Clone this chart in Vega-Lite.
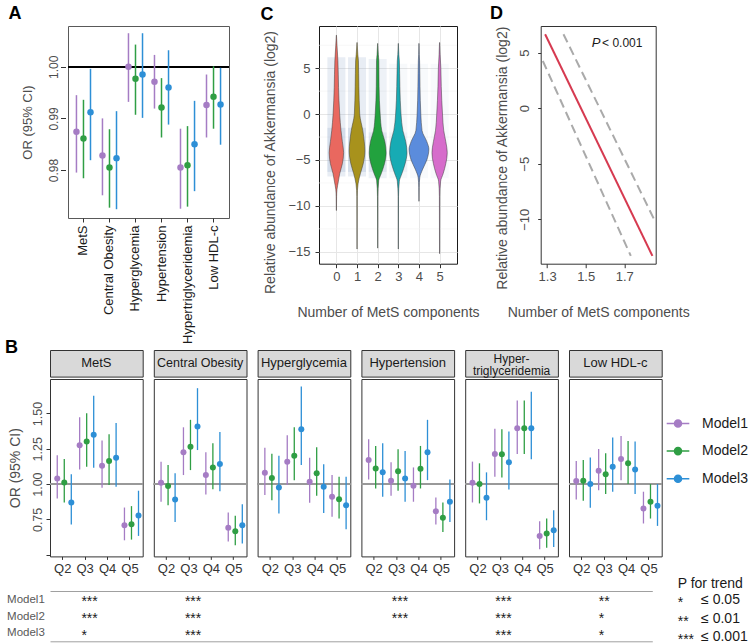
{
"$schema": "https://vega.github.io/schema/vega-lite/v6.json",
"padding": {"left": 4, "top": 4, "right": 5, "bottom": 2},
"background": "white",
"config": {
  "font": "Liberation Sans",
  "view": {"stroke": null},
  "axis": {"labelFont": "Liberation Sans", "titleFont": "Liberation Sans", "labelColor": "#4d4d4d", "titleColor": "#4d4d4d", "titleFontWeight": "normal", "labelFontSize": 13, "titleFontSize": 14, "tickColor": "#333333", "domain": false, "grid": false, "labelOverlap": false},
  "title": {"fontSize": 18, "fontWeight": "bold", "color": "#000000", "anchor": "start", "frame": "bounds", "font": "Liberation Sans", "baseline": "alphabetic", "offset": 2.5},
  "text": {"font": "Liberation Sans"}
},
"datasets": {
  "aData": [
    {"outcome":"MetS","model":"Model1","or":0.9874,"lo":0.9795,"hi":0.9945},
    {"outcome":"MetS","model":"Model2","or":0.9861,"lo":0.9784,"hi":0.9936},
    {"outcome":"MetS","model":"Model3","or":0.9912,"lo":0.9819,"hi":0.9996},
    {"outcome":"Central Obesity","model":"Model1","or":0.9828,"lo":0.9751,"hi":0.9900},
    {"outcome":"Central Obesity","model":"Model2","or":0.9805,"lo":0.9727,"hi":0.9879},
    {"outcome":"Central Obesity","model":"Model3","or":0.9823,"lo":0.9724,"hi":0.9914},
    {"outcome":"Hyperglycemia","model":"Model1","or":1.0000,"lo":0.9932,"hi":1.0065},
    {"outcome":"Hyperglycemia","model":"Model2","or":0.9977,"lo":0.9907,"hi":1.0043},
    {"outcome":"Hyperglycemia","model":"Model3","or":0.9985,"lo":0.9901,"hi":1.0065},
    {"outcome":"Hypertension","model":"Model1","or":0.9971,"lo":0.9919,"hi":1.0023},
    {"outcome":"Hypertension","model":"Model2","or":0.9921,"lo":0.9863,"hi":0.9978},
    {"outcome":"Hypertension","model":"Model3","or":0.9960,"lo":0.9888,"hi":1.0032},
    {"outcome":"Hypertriglyceridemia","model":"Model1","or":0.9805,"lo":0.9725,"hi":0.9880},
    {"outcome":"Hypertriglyceridemia","model":"Model2","or":0.9809,"lo":0.9729,"hi":0.9885},
    {"outcome":"Hypertriglyceridemia","model":"Model3","or":0.9850,"lo":0.9759,"hi":0.9934},
    {"outcome":"Low HDL-c","model":"Model1","or":0.9926,"lo":0.9863,"hi":0.9985},
    {"outcome":"Low HDL-c","model":"Model2","or":0.9942,"lo":0.9880,"hi":1.0001},
    {"outcome":"Low HDL-c","model":"Model3","or":0.9927,"lo":0.9849,"hi":0.9998}
  ],
  "bData": [
    {"outcome":"MetS","q":"Q2","model":"Model1","or":1.040,"lo":0.898,"hi":1.204},
    {"outcome":"MetS","q":"Q2","model":"Model2","or":1.012,"lo":0.870,"hi":1.178},
    {"outcome":"MetS","q":"Q2","model":"Model3","or":0.870,"lo":0.714,"hi":1.069},
    {"outcome":"MetS","q":"Q3","model":"Model1","or":1.275,"lo":1.104,"hi":1.473},
    {"outcome":"MetS","q":"Q3","model":"Model2","or":1.301,"lo":1.123,"hi":1.502},
    {"outcome":"MetS","q":"Q3","model":"Model3","or":1.350,"lo":1.116,"hi":1.625},
    {"outcome":"MetS","q":"Q4","model":"Model1","or":1.130,"lo":0.974,"hi":1.308},
    {"outcome":"MetS","q":"Q4","model":"Model2","or":1.163,"lo":0.993,"hi":1.353},
    {"outcome":"MetS","q":"Q4","model":"Model3","or":1.187,"lo":0.981,"hi":1.433},
    {"outcome":"MetS","q":"Q5","model":"Model1","or":0.709,"lo":0.602,"hi":0.834},
    {"outcome":"MetS","q":"Q5","model":"Model2","or":0.716,"lo":0.607,"hi":0.844},
    {"outcome":"MetS","q":"Q5","model":"Model3","or":0.777,"lo":0.633,"hi":0.953},
    {"outcome":"Central Obesity","q":"Q2","model":"Model1","or":1.009,"lo":0.875,"hi":1.159},
    {"outcome":"Central Obesity","q":"Q2","model":"Model2","or":0.986,"lo":0.851,"hi":1.135},
    {"outcome":"Central Obesity","q":"Q2","model":"Model3","or":0.891,"lo":0.732,"hi":1.076},
    {"outcome":"Central Obesity","q":"Q3","model":"Model1","or":1.225,"lo":1.064,"hi":1.402},
    {"outcome":"Central Obesity","q":"Q3","model":"Model2","or":1.265,"lo":1.099,"hi":1.455},
    {"outcome":"Central Obesity","q":"Q3","model":"Model3","or":1.407,"lo":1.241,"hi":1.679},
    {"outcome":"Central Obesity","q":"Q4","model":"Model1","or":1.064,"lo":0.927,"hi":1.225},
    {"outcome":"Central Obesity","q":"Q4","model":"Model2","or":1.118,"lo":0.964,"hi":1.289},
    {"outcome":"Central Obesity","q":"Q4","model":"Model3","or":1.142,"lo":0.950,"hi":1.369},
    {"outcome":"Central Obesity","q":"Q5","model":"Model1","or":0.690,"lo":0.593,"hi":0.799},
    {"outcome":"Central Obesity","q":"Q5","model":"Model2","or":0.666,"lo":0.567,"hi":0.775},
    {"outcome":"Central Obesity","q":"Q5","model":"Model3","or":0.709,"lo":0.579,"hi":0.858},
    {"outcome":"Hyperglycemia","q":"Q2","model":"Model1","or":1.080,"lo":0.922,"hi":1.258},
    {"outcome":"Hyperglycemia","q":"Q2","model":"Model2","or":1.043,"lo":0.886,"hi":1.215},
    {"outcome":"Hyperglycemia","q":"Q2","model":"Model3","or":0.976,"lo":0.792,"hi":1.201},
    {"outcome":"Hyperglycemia","q":"Q3","model":"Model1","or":1.159,"lo":0.993,"hi":1.346},
    {"outcome":"Hyperglycemia","q":"Q3","model":"Model2","or":1.201,"lo":1.028,"hi":1.402},
    {"outcome":"Hyperglycemia","q":"Q3","model":"Model3","or":1.388,"lo":1.135,"hi":1.691},
    {"outcome":"Hyperglycemia","q":"Q4","model":"Model1","or":1.017,"lo":0.867,"hi":1.187},
    {"outcome":"Hyperglycemia","q":"Q4","model":"Model2","or":1.076,"lo":0.917,"hi":1.260},
    {"outcome":"Hyperglycemia","q":"Q4","model":"Model3","or":0.981,"lo":0.796,"hi":1.140},
    {"outcome":"Hyperglycemia","q":"Q5","model":"Model1","or":0.910,"lo":0.768,"hi":1.064},
    {"outcome":"Hyperglycemia","q":"Q5","model":"Model2","or":0.893,"lo":0.756,"hi":1.052},
    {"outcome":"Hyperglycemia","q":"Q5","model":"Model3","or":0.851,"lo":0.680,"hi":1.052},
    {"outcome":"Hypertension","q":"Q2","model":"Model1","or":1.170,"lo":1.033,"hi":1.317},
    {"outcome":"Hypertension","q":"Q2","model":"Model2","or":1.111,"lo":0.969,"hi":1.270},
    {"outcome":"Hypertension","q":"Q2","model":"Model3","or":1.083,"lo":0.910,"hi":1.289},
    {"outcome":"Hypertension","q":"Q3","model":"Model1","or":1.024,"lo":0.917,"hi":1.154},
    {"outcome":"Hypertension","q":"Q3","model":"Model2","or":1.090,"lo":0.953,"hi":1.246},
    {"outcome":"Hypertension","q":"Q3","model":"Model3","or":1.040,"lo":0.875,"hi":1.234},
    {"outcome":"Hypertension","q":"Q4","model":"Model1","or":0.988,"lo":0.875,"hi":1.118},
    {"outcome":"Hypertension","q":"Q4","model":"Model2","or":1.109,"lo":0.969,"hi":1.270},
    {"outcome":"Hypertension","q":"Q4","model":"Model3","or":1.225,"lo":1.028,"hi":1.455},
    {"outcome":"Hypertension","q":"Q5","model":"Model1","or":0.808,"lo":0.714,"hi":0.905},
    {"outcome":"Hypertension","q":"Q5","model":"Model2","or":0.761,"lo":0.661,"hi":0.870},
    {"outcome":"Hypertension","q":"Q5","model":"Model3","or":0.875,"lo":0.732,"hi":1.033},
    {"outcome":"Hypertriglyceridemia","q":"Q2","model":"Model1","or":1.009,"lo":0.870,"hi":1.159},
    {"outcome":"Hypertriglyceridemia","q":"Q2","model":"Model2","or":1.000,"lo":0.863,"hi":1.147},
    {"outcome":"Hypertriglyceridemia","q":"Q2","model":"Model3","or":0.903,"lo":0.744,"hi":1.083},
    {"outcome":"Hypertriglyceridemia","q":"Q3","model":"Model1","or":1.213,"lo":1.052,"hi":1.391},
    {"outcome":"Hypertriglyceridemia","q":"Q3","model":"Model2","or":1.211,"lo":1.047,"hi":1.388},
    {"outcome":"Hypertriglyceridemia","q":"Q3","model":"Model3","or":1.154,"lo":0.962,"hi":1.372},
    {"outcome":"Hypertriglyceridemia","q":"Q4","model":"Model1","or":1.395,"lo":1.213,"hi":1.592},
    {"outcome":"Hypertriglyceridemia","q":"Q4","model":"Model2","or":1.395,"lo":1.213,"hi":1.592},
    {"outcome":"Hypertriglyceridemia","q":"Q4","model":"Model3","or":1.395,"lo":1.175,"hi":1.653},
    {"outcome":"Hypertriglyceridemia","q":"Q5","model":"Model1","or":0.633,"lo":0.538,"hi":0.737},
    {"outcome":"Hypertriglyceridemia","q":"Q5","model":"Model2","or":0.650,"lo":0.550,"hi":0.756},
    {"outcome":"Hypertriglyceridemia","q":"Q5","model":"Model3","or":0.673,"lo":0.555,"hi":0.815},
    {"outcome":"Low HDL-c","q":"Q2","model":"Model1","or":1.021,"lo":0.891,"hi":1.163},
    {"outcome":"Low HDL-c","q":"Q2","model":"Model2","or":1.024,"lo":0.882,"hi":1.170},
    {"outcome":"Low HDL-c","q":"Q2","model":"Model3","or":1.000,"lo":0.832,"hi":1.189},
    {"outcome":"Low HDL-c","q":"Q3","model":"Model1","or":1.095,"lo":0.957,"hi":1.249},
    {"outcome":"Low HDL-c","q":"Q3","model":"Model2","or":1.069,"lo":0.929,"hi":1.218},
    {"outcome":"Low HDL-c","q":"Q3","model":"Model3","or":1.123,"lo":0.946,"hi":1.329},
    {"outcome":"Low HDL-c","q":"Q4","model":"Model1","or":1.178,"lo":1.028,"hi":1.341},
    {"outcome":"Low HDL-c","q":"Q4","model":"Model2","or":1.147,"lo":1.000,"hi":1.305},
    {"outcome":"Low HDL-c","q":"Q4","model":"Model3","or":1.104,"lo":0.929,"hi":1.301},
    {"outcome":"Low HDL-c","q":"Q5","model":"Model1","or":0.827,"lo":0.721,"hi":0.946},
    {"outcome":"Low HDL-c","q":"Q5","model":"Model2","or":0.875,"lo":0.756,"hi":1.000},
    {"outcome":"Low HDL-c","q":"Q5","model":"Model3","or":0.846,"lo":0.704,"hi":1.000}
  ],
  "violin": [
    {"c":0,"v":8.6,"lo":-0.004,"hi":0.004},{"c":0,"v":7.5,"lo":-0.03,"hi":0.03},{"c":0,"v":5.8,"lo":-0.074,"hi":0.074},{"c":0,"v":2.9,"lo":-0.105,"hi":0.105},{"c":0,"v":0,"lo":-0.16,"hi":0.16},{"c":0,"v":-1.8,"lo":-0.225,"hi":0.225},{"c":0,"v":-3,"lo":-0.29,"hi":0.29},{"c":0,"v":-4.2,"lo":-0.35,"hi":0.35},{"c":0,"v":-5.4,"lo":-0.29,"hi":0.29},{"c":0,"v":-6.5,"lo":-0.16,"hi":0.16},{"c":0,"v":-7.4,"lo":-0.09,"hi":0.09},{"c":0,"v":-8.2,"lo":-0.03,"hi":0.03},{"c":0,"v":-9,"lo":-0.01,"hi":0.01},{"c":0,"v":-10.5,"lo":-0.004,"hi":0.004},
    {"c":1,"v":7.8,"lo":0.996,"hi":1.004},{"c":1,"v":6.5,"lo":0.96,"hi":1.04},{"c":1,"v":5.8,"lo":0.932,"hi":1.068},{"c":1,"v":3,"lo":0.91,"hi":1.09},{"c":1,"v":0,"lo":0.87,"hi":1.13},{"c":1,"v":-1.8,"lo":0.72,"hi":1.28},{"c":1,"v":-3,"lo":0.65,"hi":1.35},{"c":1,"v":-4,"lo":0.62,"hi":1.38},{"c":1,"v":-5.4,"lo":0.7,"hi":1.3},{"c":1,"v":-6.5,"lo":0.84,"hi":1.16},{"c":1,"v":-7.6,"lo":0.95,"hi":1.05},{"c":1,"v":-9,"lo":0.99,"hi":1.01},{"c":1,"v":-14.7,"lo":0.996,"hi":1.004},
    {"c":2,"v":7.7,"lo":1.996,"hi":2.004},{"c":2,"v":6.5,"lo":1.97,"hi":2.03},{"c":2,"v":5.8,"lo":1.944,"hi":2.056},{"c":2,"v":3,"lo":1.932,"hi":2.068},{"c":2,"v":0,"lo":1.88,"hi":2.12},{"c":2,"v":-1.8,"lo":1.8,"hi":2.2},{"c":2,"v":-3,"lo":1.65,"hi":2.35},{"c":2,"v":-4.2,"lo":1.59,"hi":2.41},{"c":2,"v":-5.4,"lo":1.67,"hi":2.33},{"c":2,"v":-6.5,"lo":1.83,"hi":2.17},{"c":2,"v":-7.25,"lo":1.95,"hi":2.05},{"c":2,"v":-9,"lo":1.99,"hi":2.01},{"c":2,"v":-14.6,"lo":1.996,"hi":2.004},
    {"c":3,"v":7.7,"lo":2.996,"hi":3.004},{"c":3,"v":6.5,"lo":2.975,"hi":3.025},{"c":3,"v":5.8,"lo":2.95,"hi":3.05},{"c":3,"v":3,"lo":2.925,"hi":3.075},{"c":3,"v":0,"lo":2.87,"hi":3.13},{"c":3,"v":-1.8,"lo":2.78,"hi":3.22},{"c":3,"v":-3,"lo":2.64,"hi":3.36},{"c":3,"v":-4.2,"lo":2.58,"hi":3.42},{"c":3,"v":-5.4,"lo":2.67,"hi":3.33},{"c":3,"v":-6.5,"lo":2.83,"hi":3.17},{"c":3,"v":-7.3,"lo":2.95,"hi":3.05},{"c":3,"v":-9,"lo":2.99,"hi":3.01},{"c":3,"v":-14.7,"lo":2.996,"hi":3.004},
    {"c":4,"v":7.7,"lo":3.996,"hi":4.004},{"c":4,"v":6.5,"lo":3.985,"hi":4.015},{"c":4,"v":5.8,"lo":3.97,"hi":4.03},{"c":4,"v":3,"lo":3.95,"hi":4.05},{"c":4,"v":0,"lo":3.91,"hi":4.09},{"c":4,"v":-1.8,"lo":3.85,"hi":4.15},{"c":4,"v":-3,"lo":3.62,"hi":4.38},{"c":4,"v":-3.8,"lo":3.52,"hi":4.48},{"c":4,"v":-5,"lo":3.62,"hi":4.38},{"c":4,"v":-6,"lo":3.82,"hi":4.18},{"c":4,"v":-6.9,"lo":3.96,"hi":4.04},{"c":4,"v":-8,"lo":3.99,"hi":4.01},{"c":4,"v":-9.5,"lo":3.996,"hi":4.004},
    {"c":5,"v":7.8,"lo":4.996,"hi":5.004},{"c":5,"v":6.5,"lo":4.975,"hi":5.025},{"c":5,"v":5,"lo":4.94,"hi":5.06},{"c":5,"v":3,"lo":4.92,"hi":5.08},{"c":5,"v":0,"lo":4.86,"hi":5.14},{"c":5,"v":-1.8,"lo":4.8,"hi":5.2},{"c":5,"v":-3,"lo":4.7,"hi":5.3},{"c":5,"v":-4.2,"lo":4.63,"hi":5.37},{"c":5,"v":-5.4,"lo":4.7,"hi":5.3},{"c":5,"v":-6.5,"lo":4.83,"hi":5.17},{"c":5,"v":-7.3,"lo":4.95,"hi":5.05},{"c":5,"v":-9,"lo":4.99,"hi":5.01},{"c":5,"v":-15.2,"lo":4.996,"hi":5.004}
  ],
  "haze": [
    {"c":0,"lo":-6.8,"hi":6.2,"d":0.2},{"c":1,"lo":-6.8,"hi":6.2,"d":0.2},{"c":2,"lo":-7,"hi":6.0,"d":0.15},{"c":3,"lo":-7,"hi":5.5,"d":0.07},{"c":4,"lo":-7,"hi":5.5,"d":0.06},{"c":5,"lo":-7,"hi":5.5,"d":0.06},
    {"c":0,"lo":-6.3,"hi":-1.5,"d":0.22},{"c":1,"lo":-6.3,"hi":-1.5,"d":0.22},{"c":2,"lo":-6.3,"hi":-2,"d":0.17},{"c":3,"lo":-6.3,"hi":-2,"d":0.08}
  ],
  "dLines": [
    {"k":"fit","x":1.29,"y":6.66},{"k":"fit","x":1.846,"y":-13.3},
    {"k":"upper","x":1.385,"y":6.66},{"k":"upper","x":1.863,"y":-10.3},
    {"k":"lower","x":1.278,"y":4.25},{"k":"lower","x":1.734,"y":-13.3}
  ],
  "stars": [
    {"outcome":"MetS","model":"Model1","star":"***"},{"outcome":"MetS","model":"Model2","star":"***"},{"outcome":"MetS","model":"Model3","star":"*"},
    {"outcome":"Central Obesity","model":"Model1","star":"***"},{"outcome":"Central Obesity","model":"Model2","star":"***"},{"outcome":"Central Obesity","model":"Model3","star":"***"},
    {"outcome":"Hypertension","model":"Model1","star":"***"},{"outcome":"Hypertension","model":"Model2","star":"***"},
    {"outcome":"Hypertriglyceridemia","model":"Model1","star":"***"},{"outcome":"Hypertriglyceridemia","model":"Model2","star":"***"},{"outcome":"Hypertriglyceridemia","model":"Model3","star":"***"},
    {"outcome":"Low HDL-c","model":"Model1","star":"**"},{"outcome":"Low HDL-c","model":"Model2","star":"*"},{"outcome":"Low HDL-c","model":"Model3","star":"*"}
  ],
  "ptrend": [
    {"row":"*","col":"sym","t":"*"},{"row":"*","col":"thr","t":"≤ 0.05"},
    {"row":"**","col":"sym","t":"**"},{"row":"**","col":"thr","t":"≤ 0.01"},
    {"row":"***","col":"sym","t":"***"},{"row":"***","col":"thr","t":"≤ 0.001"}
  ]
},
"vconcat": [
 {"vconcat": [
  {"hconcat": [
   {"hconcat": [
    {"title": {"text": "A", "dx": -13},
     "hconcat": [
      {"width": 1, "height": 192, "data": {"name": "aData"}, "mark": {"type": "point", "opacity": 0},
       "encoding": {"y": {"field": "or", "type": "quantitative", "scale": {"domain": [0.9707, 1.0079], "nice": false, "zero": false},
         "axis": {"values": [0.98, 0.99, 1.0], "format": ".2f", "offset": -15.5, "labelAngle": -90, "labelAlign": "center", "labelBaseline": "bottom", "tickSize": 5, "labelPadding": 0, "labelFontSize": 12, "title": "OR (95% CI)", "titleFontSize": 13, "titlePadding": 13}}}},
      {"width": 161, "height": 192, "view": {"stroke": "#595959"}, "data": {"name": "aData"},
       "layer": [
        {"mark": {"type": "rule", "color": "#000000", "strokeWidth": 1.3}, "encoding": {"y": {"datum": 1, "type": "quantitative", "scale": {"domain": [0.9707, 1.0079], "nice": false, "zero": false}, "axis": null}}},
        {"mark": {"type": "rule", "strokeWidth": 1.5},
         "encoding": {
          "x": {"field": "outcome", "type": "nominal", "sort": ["MetS","Central Obesity","Hyperglycemia","Hypertension","Hypertriglyceridemia","Low HDL-c"], "scale": {"paddingInner": 0.19, "paddingOuter": 0.19}, "axis": {"title": null, "labelAngle": -90, "tickSize": 4, "labelPadding": 3, "labelColor": "#1a1a1a", "labelFontSize": 13}},
          "xOffset": {"field": "model", "type": "nominal", "sort": ["Model1","Model2","Model3"]},
          "y": {"field": "lo", "type": "quantitative", "axis": null}, "y2": {"field": "hi"},
          "color": {"field": "model", "type": "nominal", "scale": {"domain": ["Model1","Model2","Model3"], "range": ["#a57cc4","#2f9e44","#2d8fd6"]}}}},
        {"mark": {"type": "point", "filled": true, "size": 42, "opacity": 1},
         "encoding": {
          "x": {"field": "outcome", "type": "nominal", "sort": ["MetS","Central Obesity","Hyperglycemia","Hypertension","Hypertriglyceridemia","Low HDL-c"]},
          "xOffset": {"field": "model", "type": "nominal", "sort": ["Model1","Model2","Model3"]},
          "y": {"field": "or", "type": "quantitative", "axis": null},
          "color": {"field": "model", "type": "nominal", "scale": {"domain": ["Model1","Model2","Model3"], "range": ["#a57cc4","#2f9e44","#2d8fd6"]},
            "legend": {"title": null, "orient": "none", "legendX": 620, "legendY": 389.5, "symbolType": "M-1.6,0L1.6,0M0.5,0A0.5,0.5,0,1,1,-0.5,0A0.5,0.5,0,1,1,0.5,0", "symbolSize": 200, "symbolStrokeWidth": 1.5, "labelFontSize": 14, "labelColor": "#1a1a1a", "labelOffset": 16, "rowPadding": 12.6, "padding": 0,
              "encode": {"symbols": {"update": {"fill": {"signal": "scale('color', datum.value)"}, "stroke": {"signal": "scale('color', datum.value)"}, "opacity": {"value": 1}}}}}}}}
       ]}
     ], "spacing": 0},
    {"width": 138, "height": 237.7, "title": {"text": "C", "dx": -3}, "view": {"stroke": "#1a1a1a"},
     "layer": [
      {"data": {"values": [{"g": 7.5},{"g": 2.5},{"g": -2.5},{"g": -7.5},{"g": -12.5}]}, "mark": {"type": "rule", "color": "#f2f2f2", "strokeWidth": 0.6},
       "encoding": {"y": {"field": "g", "type": "quantitative", "scale": {"domain": [-16.3, 9.6], "nice": false, "zero": false},
         "axis": {"values": [-15,-10,-5,0,5], "grid": true, "gridColor": "#e6e6e6", "tickSize": 4, "labelPadding": 5, "title": "Relative abundance of Akkermansia (log2)", "titlePadding": 10.5, "titleY": 136}}}},
      {"data": {"name": "haze"}, "mark": {"type": "bar", "width": 18, "color": "#8ea6c8"},
       "encoding": {"x": {"field": "c", "type": "quantitative", "scale": {"domain": [-0.6, 5.6], "nice": false, "zero": false},
          "axis": {"values": [0,1,2,3,4,5], "labelOverlap": false, "grid": true, "gridColor": "#e6e6e6", "tickSize": 4, "labelPadding": 3, "title": "Number of MetS components", "titlePadding": 22}},
        "y": {"field": "lo", "type": "quantitative"}, "y2": {"field": "hi"},
        "opacity": {"field": "d", "type": "quantitative", "scale": {"domain": [0, 1], "range": [0, 1]}, "legend": null}}},
      {"data": {"name": "violin"}, "mark": {"type": "area", "orient": "horizontal", "stroke": "#3a3a3a", "strokeWidth": 0.5, "interpolate": "monotone", "fillOpacity": 1},
       "encoding": {"y": {"field": "v", "type": "quantitative"},
        "x": {"field": "lo", "type": "quantitative", "axis": {"values": [0,1,2,3,4,5], "labelOverlap": false, "grid": true, "gridColor": "#e6e6e6", "tickSize": 4, "labelPadding": 3, "title": "Number of MetS components", "titlePadding": 22}},
        "x2": {"field": "hi"},
        "fill": {"field": "c", "type": "nominal", "scale": {"range": ["#e9685f","#a8921c","#22a23e","#17abb4","#5b8cdc","#d66ccb"]}, "legend": null}}}
     ]}
   ], "spacing": 28},
    {"width": 115, "height": 237.7, "title": {"text": "D", "dx": -5}, "view": {"stroke": "#333333"},
     "layer": [
      {"data": {"name": "dLines"}, "transform": [{"filter": "datum.k != 'fit'"}], "mark": {"type": "line", "color": "#aaaaaa", "strokeDash": [9, 5], "strokeWidth": 2},
       "encoding": {"x": {"field": "x", "type": "quantitative", "scale": {"domain": [1.267, 1.863], "nice": false, "zero": false},
          "axis": {"values": [1.3,1.4,1.5,1.6,1.7,1.8], "labelOverlap": false, "labelExpr": "indexof(['1.3','1.5','1.7'], format(datum.value, '.1f')) >= 0 ? format(datum.value, '.1f') : ''", "tickSize": 4, "labelPadding": 3, "title": "Number of MetS components", "titlePadding": 22}},
        "y": {"field": "y", "type": "quantitative", "scale": {"domain": [-14, 7.4], "nice": false, "zero": false},
          "axis": {"values": [-10,-5,0,5], "labelAngle": -90, "labelAlign": "center", "labelBaseline": "bottom", "tickSize": 3, "labelPadding": 6, "title": "Relative abundance of Akkermansia (log2)", "titlePadding": 9.6, "titleY": 131.7}},
        "detail": {"field": "k"}}},
      {"data": {"name": "dLines"}, "transform": [{"filter": "datum.k == 'fit'"}], "mark": {"type": "line", "color": "#d63a50", "strokeWidth": 2},
       "encoding": {"x": {"field": "x", "type": "quantitative"}, "y": {"field": "y", "type": "quantitative"}}},
      {"data": {"values": [{"x": 1.532, "y": 5.9, "t": "P"}]}, "mark": {"type": "text", "fontStyle": "italic", "fontSize": 13, "align": "left", "color": "#1a1a1a"},
       "encoding": {"x": {"field": "x", "type": "quantitative"}, "y": {"field": "y", "type": "quantitative"}, "text": {"field": "t"}}},
      {"data": {"values": [{"x": 1.585, "y": 5.9, "t": "< 0.001"}]}, "mark": {"type": "text", "fontSize": 12, "align": "left", "color": "#1a1a1a"},
       "encoding": {"x": {"field": "x", "type": "quantitative"}, "y": {"field": "y", "type": "quantitative"}, "text": {"field": "t"}}}
     ]}
  ], "spacing": 8.7},
  {"hconcat": [
    {"vconcat": [
      {"width": 92.7, "height": 26.6, "view": {"fill": "#d9d9d9", "stroke": "#333333"}, "data": {"values": [{"label": "MetS"}]},
       "title": {"text": "B", "orient": "left", "angle": 0, "anchor": "end", "align": "right", "baseline": "top", "offset": 19, "dy": -11, "frame": "group"},
       "mark": {"type": "text", "fontSize": 13, "color": "#1a1a1a"}, "encoding": {"text": {"field": "label", "type": "nominal"}}},
      {"width": 92.7, "height": 177.4, "view": {"stroke": "#333333"}, "data": {"name": "bData"}, "transform": [{"filter": {"field": "outcome", "equal": "MetS"}}],
       "layer": [
        {"mark": {"type": "rule", "color": "#9a9a9a", "strokeWidth": 1}, "encoding": {"y": {"datum": 1, "type": "quantitative", "scale": {"domain": [0.488, 1.744], "nice": false, "zero": false},
          "axis": {"values": [0.5,0.75,1,1.25,1.5], "labelExpr": "datum.value < 0.6 ? '' : format(datum.value, '.2f')", "labelAngle": -90, "labelAlign": "center", "labelBaseline": "bottom", "tickSize": 4, "labelPadding": 1.5, "labelFontSize": 12.5, "title": "OR (95% CI)", "titleFontSize": 14, "titlePadding": 9}}}},
        {"mark": {"type": "rule", "strokeWidth": 1.3}, "encoding": {"x": {"field": "q", "type": "nominal", "sort": ["Q2","Q3","Q4","Q5"], "scale": {"paddingInner": 0.196, "paddingOuter": 0.167}, "axis": {"title": null, "labelAngle": 0, "tickSize": 3, "labelPadding": 3.5, "labelColor": "#333333", "labelFontSize": 13}}, "xOffset": {"field": "model", "type": "nominal", "sort": ["Model1","Model2","Model3"]}, "y": {"field": "lo", "type": "quantitative"}, "y2": {"field": "hi"}, "color": {"field": "model", "type": "nominal", "scale": {"domain": ["Model1","Model2","Model3"], "range": ["#a57cc4","#2f9e44","#2d8fd6"]}}}},
        {"mark": {"type": "point", "filled": true, "size": 36, "opacity": 1}, "encoding": {"x": {"field": "q", "type": "nominal", "sort": ["Q2","Q3","Q4","Q5"]}, "xOffset": {"field": "model", "type": "nominal", "sort": ["Model1","Model2","Model3"]}, "y": {"field": "or", "type": "quantitative"}, "color": {"field": "model", "type": "nominal"}}}
       ]}
    ], "spacing": 0},
    {"vconcat": [
      {"width": 92.7, "height": 26.6, "view": {"fill": "#d9d9d9", "stroke": "#333333"}, "data": {"values": [{"label": "Central Obesity"}]},
       "mark": {"type": "text", "fontSize": 12.5, "color": "#1a1a1a"}, "encoding": {"text": {"field": "label", "type": "nominal"}}},
      {"width": 92.7, "height": 177.4, "view": {"stroke": "#333333"}, "data": {"name": "bData"}, "transform": [{"filter": {"field": "outcome", "equal": "Central Obesity"}}],
       "layer": [
        {"mark": {"type": "rule", "color": "#9a9a9a", "strokeWidth": 1}, "encoding": {"y": {"datum": 1, "type": "quantitative", "scale": {"domain": [0.488, 1.744], "nice": false, "zero": false}, "axis": null}}},
        {"mark": {"type": "rule", "strokeWidth": 1.3}, "encoding": {"x": {"field": "q", "type": "nominal", "sort": ["Q2","Q3","Q4","Q5"], "scale": {"paddingInner": 0.196, "paddingOuter": 0.167}, "axis": {"title": null, "labelAngle": 0, "tickSize": 3, "labelPadding": 3.5, "labelColor": "#333333", "labelFontSize": 13}}, "xOffset": {"field": "model", "type": "nominal", "sort": ["Model1","Model2","Model3"]}, "y": {"field": "lo", "type": "quantitative", "axis": null}, "y2": {"field": "hi"}, "color": {"field": "model", "type": "nominal"}}},
        {"mark": {"type": "point", "filled": true, "size": 36, "opacity": 1}, "encoding": {"x": {"field": "q", "type": "nominal", "sort": ["Q2","Q3","Q4","Q5"]}, "xOffset": {"field": "model", "type": "nominal", "sort": ["Model1","Model2","Model3"]}, "y": {"field": "or", "type": "quantitative", "axis": null}, "color": {"field": "model", "type": "nominal"}}}
       ]}
    ], "spacing": 0},
    {"vconcat": [
      {"width": 92.7, "height": 26.6, "view": {"fill": "#d9d9d9", "stroke": "#333333"}, "data": {"values": [{"label": "Hyperglycemia"}]},
       "mark": {"type": "text", "fontSize": 13, "color": "#1a1a1a"}, "encoding": {"text": {"field": "label", "type": "nominal"}}},
      {"width": 92.7, "height": 177.4, "view": {"stroke": "#333333"}, "data": {"name": "bData"}, "transform": [{"filter": {"field": "outcome", "equal": "Hyperglycemia"}}],
       "layer": [
        {"mark": {"type": "rule", "color": "#9a9a9a", "strokeWidth": 1}, "encoding": {"y": {"datum": 1, "type": "quantitative", "scale": {"domain": [0.488, 1.744], "nice": false, "zero": false}, "axis": null}}},
        {"mark": {"type": "rule", "strokeWidth": 1.3}, "encoding": {"x": {"field": "q", "type": "nominal", "sort": ["Q2","Q3","Q4","Q5"], "scale": {"paddingInner": 0.196, "paddingOuter": 0.167}, "axis": {"title": null, "labelAngle": 0, "tickSize": 3, "labelPadding": 3.5, "labelColor": "#333333", "labelFontSize": 13}}, "xOffset": {"field": "model", "type": "nominal", "sort": ["Model1","Model2","Model3"]}, "y": {"field": "lo", "type": "quantitative", "axis": null}, "y2": {"field": "hi"}, "color": {"field": "model", "type": "nominal"}}},
        {"mark": {"type": "point", "filled": true, "size": 36, "opacity": 1}, "encoding": {"x": {"field": "q", "type": "nominal", "sort": ["Q2","Q3","Q4","Q5"]}, "xOffset": {"field": "model", "type": "nominal", "sort": ["Model1","Model2","Model3"]}, "y": {"field": "or", "type": "quantitative", "axis": null}, "color": {"field": "model", "type": "nominal"}}}
       ]}
    ], "spacing": 0},
    {"vconcat": [
      {"width": 92.7, "height": 26.6, "view": {"fill": "#d9d9d9", "stroke": "#333333"}, "data": {"values": [{"label": "Hypertension"}]},
       "mark": {"type": "text", "fontSize": 13, "color": "#1a1a1a"}, "encoding": {"text": {"field": "label", "type": "nominal"}}},
      {"width": 92.7, "height": 177.4, "view": {"stroke": "#333333"}, "data": {"name": "bData"}, "transform": [{"filter": {"field": "outcome", "equal": "Hypertension"}}],
       "layer": [
        {"mark": {"type": "rule", "color": "#9a9a9a", "strokeWidth": 1}, "encoding": {"y": {"datum": 1, "type": "quantitative", "scale": {"domain": [0.488, 1.744], "nice": false, "zero": false}, "axis": null}}},
        {"mark": {"type": "rule", "strokeWidth": 1.3}, "encoding": {"x": {"field": "q", "type": "nominal", "sort": ["Q2","Q3","Q4","Q5"], "scale": {"paddingInner": 0.196, "paddingOuter": 0.167}, "axis": {"title": null, "labelAngle": 0, "tickSize": 3, "labelPadding": 3.5, "labelColor": "#333333", "labelFontSize": 13}}, "xOffset": {"field": "model", "type": "nominal", "sort": ["Model1","Model2","Model3"]}, "y": {"field": "lo", "type": "quantitative", "axis": null}, "y2": {"field": "hi"}, "color": {"field": "model", "type": "nominal"}}},
        {"mark": {"type": "point", "filled": true, "size": 36, "opacity": 1}, "encoding": {"x": {"field": "q", "type": "nominal", "sort": ["Q2","Q3","Q4","Q5"]}, "xOffset": {"field": "model", "type": "nominal", "sort": ["Model1","Model2","Model3"]}, "y": {"field": "or", "type": "quantitative", "axis": null}, "color": {"field": "model", "type": "nominal"}}}
       ]}
    ], "spacing": 0},
    {"vconcat": [
      {"width": 92.7, "height": 26.6, "view": {"fill": "#d9d9d9", "stroke": "#333333"}, "data": {"values": [{"label": "Hyper-\ntriglyceridemia"}]},
       "mark": {"type": "text", "fontSize": 12, "color": "#1a1a1a", "lineBreak": "\n", "lineHeight": 12.5, "dy": -4.5}, "encoding": {"text": {"field": "label", "type": "nominal"}}},
      {"width": 92.7, "height": 177.4, "view": {"stroke": "#333333"}, "data": {"name": "bData"}, "transform": [{"filter": {"field": "outcome", "equal": "Hypertriglyceridemia"}}],
       "layer": [
        {"mark": {"type": "rule", "color": "#9a9a9a", "strokeWidth": 1}, "encoding": {"y": {"datum": 1, "type": "quantitative", "scale": {"domain": [0.488, 1.744], "nice": false, "zero": false}, "axis": null}}},
        {"mark": {"type": "rule", "strokeWidth": 1.3}, "encoding": {"x": {"field": "q", "type": "nominal", "sort": ["Q2","Q3","Q4","Q5"], "scale": {"paddingInner": 0.196, "paddingOuter": 0.167}, "axis": {"title": null, "labelAngle": 0, "tickSize": 3, "labelPadding": 3.5, "labelColor": "#333333", "labelFontSize": 13}}, "xOffset": {"field": "model", "type": "nominal", "sort": ["Model1","Model2","Model3"]}, "y": {"field": "lo", "type": "quantitative", "axis": null}, "y2": {"field": "hi"}, "color": {"field": "model", "type": "nominal"}}},
        {"mark": {"type": "point", "filled": true, "size": 36, "opacity": 1}, "encoding": {"x": {"field": "q", "type": "nominal", "sort": ["Q2","Q3","Q4","Q5"]}, "xOffset": {"field": "model", "type": "nominal", "sort": ["Model1","Model2","Model3"]}, "y": {"field": "or", "type": "quantitative", "axis": null}, "color": {"field": "model", "type": "nominal"}}}
       ]}
    ], "spacing": 0},
    {"vconcat": [
      {"width": 92.7, "height": 26.6, "view": {"fill": "#d9d9d9", "stroke": "#333333"}, "data": {"values": [{"label": "Low HDL-c"}]},
       "mark": {"type": "text", "fontSize": 13, "color": "#1a1a1a"}, "encoding": {"text": {"field": "label", "type": "nominal"}}},
      {"width": 92.7, "height": 177.4, "view": {"stroke": "#333333"}, "data": {"name": "bData"}, "transform": [{"filter": {"field": "outcome", "equal": "Low HDL-c"}}],
       "layer": [
        {"mark": {"type": "rule", "color": "#9a9a9a", "strokeWidth": 1}, "encoding": {"y": {"datum": 1, "type": "quantitative", "scale": {"domain": [0.488, 1.744], "nice": false, "zero": false}, "axis": null}}},
        {"mark": {"type": "rule", "strokeWidth": 1.3}, "encoding": {"x": {"field": "q", "type": "nominal", "sort": ["Q2","Q3","Q4","Q5"], "scale": {"paddingInner": 0.196, "paddingOuter": 0.167}, "axis": {"title": null, "labelAngle": 0, "tickSize": 3, "labelPadding": 3.5, "labelColor": "#333333", "labelFontSize": 13}}, "xOffset": {"field": "model", "type": "nominal", "sort": ["Model1","Model2","Model3"]}, "y": {"field": "lo", "type": "quantitative", "axis": null}, "y2": {"field": "hi"}, "color": {"field": "model", "type": "nominal"}}},
        {"mark": {"type": "point", "filled": true, "size": 36, "opacity": 1}, "encoding": {"x": {"field": "q", "type": "nominal", "sort": ["Q2","Q3","Q4","Q5"]}, "xOffset": {"field": "model", "type": "nominal", "sort": ["Model1","Model2","Model3"]}, "y": {"field": "or", "type": "quantitative", "axis": null}, "color": {"field": "model", "type": "nominal"}}}
       ]}
    ], "spacing": 0}
  ], "spacing": 8.8}
 ], "spacing": -6},
 {"hconcat": [
   {"width": 602.3, "height": 50.3, "data": {"name": "stars"},
    "layer": [
     {"mark": {"type": "text", "align": "left", "baseline": "middle", "dy": 3, "fontSize": 14, "color": "#1a1a1a"},
      "encoding": {
       "x": {"field": "outcome", "type": "nominal", "scale": {"type": "point", "domain": ["MetS","Central Obesity","Hyperglycemia","Hypertension","Hypertriglyceridemia","Low HDL-c"], "padding": 0.41, "align": 0.37},
         "axis": {"orient": "bottom", "domain": true, "domainColor": "#a0a0a0", "domainWidth": 1, "labels": false, "ticks": false, "title": null}},
       "y": {"field": "model", "type": "nominal", "scale": {"domain": ["Model1","Model2","Model3"], "paddingInner": 0, "paddingOuter": 0}, "axis": {"title": null, "domain": false, "ticks": false, "labelPadding": 5.7, "labelColor": "#595959", "labelFontSize": 11.5}},
       "text": {"field": "star"}}},
     {"mark": {"type": "text", "opacity": 0},
      "encoding": {
       "x": {"field": "outcome", "type": "nominal", "axis": {"orient": "top", "domain": true, "domainColor": "#a0a0a0", "domainWidth": 1, "labels": false, "ticks": false, "title": null}},
       "y": {"field": "model", "type": "nominal"},
       "text": {"field": "star"}}}
    ],
    "resolve": {"axis": {"x": "independent"}}},
   {"width": 46.8, "height": 55, "data": {"name": "ptrend"},
    "layer": [
     {"transform": [{"filter": "datum.col == 'sym'"}], "mark": {"type": "text", "align": "left", "baseline": "middle", "dy": 3, "fontSize": 14, "color": "#1a1a1a"},
      "encoding": {"x": {"field": "col", "type": "nominal", "bandPosition": 0, "scale": {"domain": ["sym","thr"], "paddingInner": 0, "paddingOuter": 0}, "axis": null},
        "y": {"field": "row", "type": "nominal", "scale": {"domain": ["*","**","***"], "paddingInner": 0, "paddingOuter": 0.152, "align": 0.5}, "axis": null}, "text": {"field": "t"}}},
     {"transform": [{"filter": "datum.col == 'thr'"}], "mark": {"type": "text", "align": "left", "baseline": "middle", "fontSize": 14, "color": "#1a1a1a"},
      "encoding": {"x": {"field": "col", "type": "nominal", "bandPosition": 0}, "y": {"field": "row", "type": "nominal"}, "text": {"field": "t"}}},
     {"data": {"values": [{"row": "*", "col": "sym", "t": "P for trend"}]}, "mark": {"type": "text", "align": "left", "baseline": "middle", "dy": -16.5, "fontSize": 14, "color": "#1a1a1a"},
      "encoding": {"x": {"field": "col", "type": "nominal", "bandPosition": 0}, "y": {"field": "row", "type": "nominal"}, "text": {"field": "t"}}}
    ]}
 ], "spacing": 13}
],
"spacing": -1
}
